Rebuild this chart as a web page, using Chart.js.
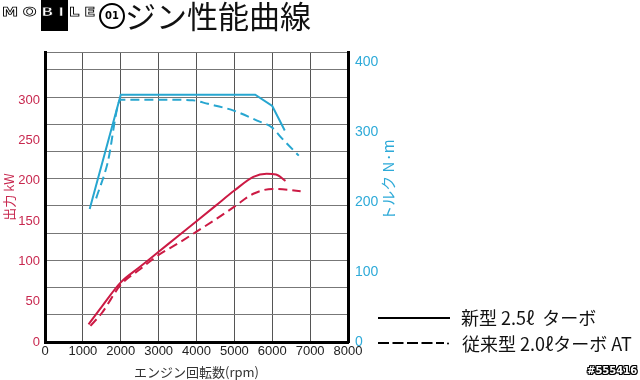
<!DOCTYPE html>
<html><head><meta charset="utf-8">
<script src="https://cdn.jsdelivr.net/npm/chart.js@4/dist/chart.umd.min.js"></script>
<style>
html,body{margin:0;padding:0;background:#fff;}
#wrap{position:relative;width:640px;height:380px;overflow:hidden;font-family:"Noto Sans CJK JP",sans-serif;}
#c{position:absolute;left:0;top:0;}
#title{position:absolute;left:63px;top:-5px;font-size:31px;line-height:40px;color:#111;white-space:nowrap;}
#logo{position:absolute;left:0;top:0;width:127px;height:34px;background:#fff;}
#lbox{position:absolute;left:41px;top:0px;width:27px;height:31px;background:#000;}
#ltext{position:absolute;left:2px;top:4px;font:bold 17px "DejaVu Sans";letter-spacing:5px;color:#fff;-webkit-text-stroke:1px #000;white-space:nowrap;transform:scale(0.95,0.75);transform-origin:left top;}
#lcirc{position:absolute;left:99px;top:3px;width:22px;height:22px;border:2px solid #000;border-radius:50%;font:bold 10px "DejaVu Sans";line-height:22px;text-align:center;color:#000;}
#tqTitle{position:absolute;left:387px;top:180px;transform:translate(-50%,-50%) rotate(-90deg);font-size:15px;color:#2eaad8;white-space:nowrap;}
.legt{position:absolute;font-size:18px;line-height:20px;color:#111;white-space:nowrap;}
#wm{position:absolute;left:587px;top:365px;font:bold 10px "DejaVu Sans";color:#fff;text-shadow:1px 0 #000,-1px 0 #000,0 1px #000,0 -1px #000,1px 1px #000,-1px -1px #000,1px -1px #000,-1px 1px #000;}
</style></head><body>
<div id="wrap">
<canvas id="c" width="640" height="380"></canvas>
<div id="title">エンジン性能曲線</div>
<div id="logo"><div id="lbox"></div><div id="ltext">MOBILE</div><div id="lcirc">01</div></div>
<div id="tqTitle">トルク N·m</div>
<svg style="position:absolute;left:0;top:0" width="640" height="380">
  <line x1="378" y1="318" x2="450" y2="318" stroke="#000" stroke-width="2"/>
  <line x1="378" y1="343" x2="444" y2="343" stroke="#000" stroke-width="2" stroke-dasharray="11 3.5"/>
  <circle cx="448" cy="343.5" r="1" fill="#000"/>
</svg>
<div class="legt" id="leg1" style="left:461px;top:307px;">新型 2.5ℓ&nbsp;&nbsp;ターボ</div>
<div class="legt" id="leg2" style="left:462px;top:333px;">従来型 2.0ℓターボ AT</div>
<div id="wm">#555416</div>
</div>
<script>
// ---- data ----
const rpmTicks = [0, 1000, 2000, 3000, 4000, 5000, 6000, 7000, 8000];
const powerTicks = [0, 50, 100, 150, 200, 250, 300];
const torqueTicks = [0, 100, 200, 300, 400];
const seriesNames = ['新型 2.5ℓ ターボ', '従来型 2.0ℓターボ AT'];

const newPowerRpm = [1150, 1500, 2000, 2500, 3000, 3500, 4000, 4500, 5000, 5500, 5850, 6100, 6350];
const newPowerKw  = [22, 44, 74, 93, 112, 131, 150, 169, 188, 205, 209, 208, 200];
const oldPowerRpm = [1200, 1500, 2000, 2500, 3000, 3500, 4000, 4500, 5000, 5500, 6000, 6400, 6750];
const oldPowerKw  = [20, 36, 71, 90, 108, 122, 137, 152, 168, 184, 190, 189, 187];

const newTorqueRpm = [1180, 2000, 5550, 6000, 6330];
const newTorqueNm  = [190, 353, 353, 337, 302];
const oldTorqueRpm = [1350, 1650, 2000, 3000, 3900, 4300, 5000, 5600, 6000, 6250, 6700];
const oldTorqueNm  = [205, 255, 346, 346, 345, 340, 330, 316, 306, 291, 266];

const RED = '#cc1a44', CYAN = '#27a6d0';
const RED_T = '#c8284f', CYAN_T = '#2eaad8';

const pts = (xs, ys) => xs.map((x, i) => ({x: x, y: ys[i]}));
const fixTicks = arr => s => { s.ticks = arr.map(v => ({value: v})); };
const plain = v => String(v);

new Chart(document.getElementById('c'), {
  type: 'line',
  data: {datasets: [
    {label: seriesNames[0] + ' 出力', data: pts(newPowerRpm, newPowerKw), yAxisID: 'kw',
     borderColor: RED, borderWidth: 2, pointRadius: 0, cubicInterpolationMode: 'monotone', fill: false},
    {label: seriesNames[1] + ' 出力', data: pts(oldPowerRpm, oldPowerKw), yAxisID: 'kw',
     borderColor: RED, borderWidth: 2, borderDash: [9, 5], pointRadius: 0, cubicInterpolationMode: 'monotone', fill: false},
    {label: seriesNames[0] + ' トルク', data: pts(newTorqueRpm, newTorqueNm), yAxisID: 'tq',
     borderColor: CYAN, borderWidth: 2, pointRadius: 0, tension: 0, fill: false},
    {label: seriesNames[1] + ' トルク', data: pts(oldTorqueRpm, oldTorqueNm), yAxisID: 'tq',
     borderColor: CYAN, borderWidth: 2, borderDash: [9, 5], pointRadius: 0, cubicInterpolationMode: 'monotone', fill: false}
  ]},
  options: {
    responsive: false, animation: false, devicePixelRatio: 1,
    layout: {padding: {top: 52, left: 0, right: 242, bottom: 0}},
    plugins: {legend: {display: false}, tooltip: {enabled: false}},
    scales: {
      x: {type: 'linear', position: 'bottom', min: 0, max: 8000,
          afterBuildTicks: fixTicks(rpmTicks), afterFit: s => { s.height = 38; },
          grid: {color: '#555', lineWidth: 1, drawTicks: false},
          border: {color: '#000', width: 3},
          ticks: {color: '#222', font: {size: 13, family: 'Liberation Sans'}, padding: 2, maxRotation: 0, autoSkip: false, callback: plain},
          title: {display: true, text: 'エンジン回転数(rpm)', color: '#333',
                  font: {size: 13, family: 'Noto Sans CJK JP'}, padding: {top: 0, bottom: 0}}},
      g: {type: 'linear', position: 'left', min: 0, max: 10.66,
          ticks: {display: false, stepSize: 1},
          grid: {color: '#777', lineWidth: 1, drawTicks: false},
          border: {display: false}, afterFit: s => { s.width = 0; }},
      kw: {type: 'linear', position: 'left', min: 0, max: 360,
           afterBuildTicks: fixTicks(powerTicks), afterFit: s => { s.width = 45; },
           grid: {display: false, drawTicks: false},
           border: {color: '#000', width: 3},
           ticks: {color: RED_T, font: {size: 13, family: 'Liberation Sans'}, padding: 5, callback: plain},
           title: {display: true, text: '出力 kW', color: RED_T,
                   font: {size: 13, family: 'Noto Sans CJK JP'}, padding: {top: 1, bottom: 0}}},
      tq: {type: 'linear', position: 'right', min: 0, max: 414,
           afterBuildTicks: fixTicks(torqueTicks), afterFit: s => { s.width = 50; },
           grid: {display: false, drawTicks: false},
           border: {color: '#000', width: 3},
           ticks: {color: CYAN_T, font: {size: 14, family: 'Liberation Sans'}, padding: 7, callback: plain}}
    }
  }
});
</script>
</body></html>
